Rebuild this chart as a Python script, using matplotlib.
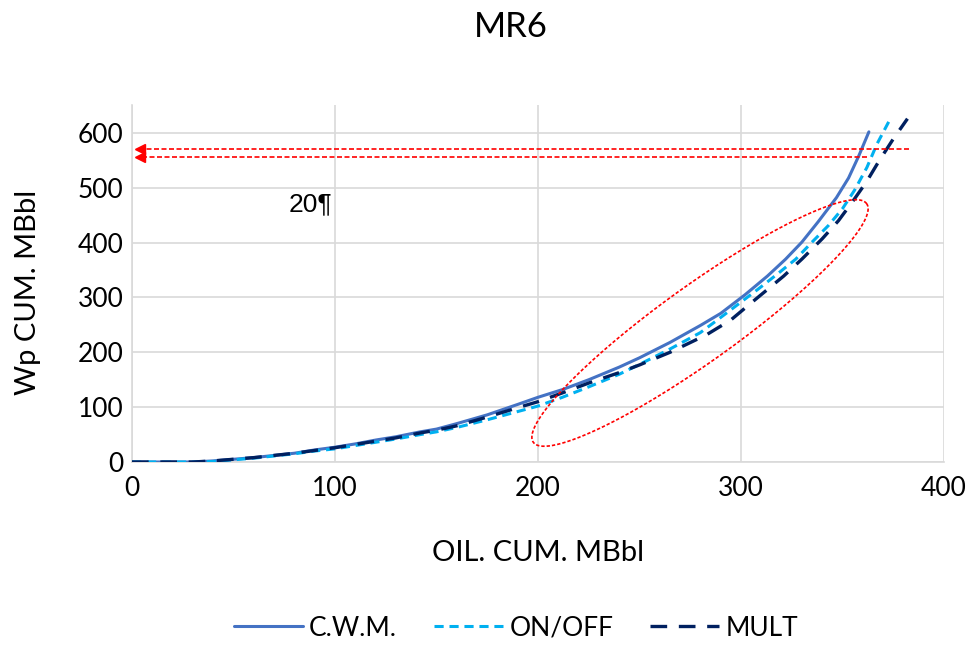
import numpy as np
import matplotlib
matplotlib.use("Agg")
import matplotlib.pyplot as plt

plt.rcParams['font.family'] = ['Lato', 'DejaVu Sans']

# ---- data ----
cwm_x = [0, 30, 40, 50, 60, 70, 80, 90, 100, 110, 120, 130, 142, 150, 160, 175, 190, 200,
         212, 225, 240, 250, 265, 280, 290, 302, 313, 322, 330, 338, 347, 353, 358, 363]
cwm_y = [0, 0, 2, 5, 8, 12, 16, 22, 27, 33, 40, 46, 55, 60, 70, 86, 105, 118,
         132, 150, 173, 190, 218, 249, 271, 305, 339, 370, 401, 438, 482, 518, 558, 602]

onoff_x = [0, 30, 40, 50, 60, 70, 80, 90, 100, 110, 120, 130, 142, 150, 160, 175, 190, 200,
           212, 225, 240, 250, 265, 280, 288, 298, 308, 318, 327, 335, 343, 350, 356, 362, 367, 373]
onoff_y = [0, 0, 1, 4, 7, 11, 15, 20, 24, 30, 36, 42, 50, 55, 63, 77, 92, 102,
           118, 137, 160, 178, 206, 236, 258, 286, 314, 343, 370, 401, 431, 462, 496, 537, 580, 622]

mult_x = [0, 30, 40, 50, 60, 70, 80, 90, 100, 110, 120, 130, 142, 150, 160, 175, 190, 200,
          212, 225, 240, 250, 265, 283, 295, 305, 321, 330, 340, 348, 355, 362, 368, 375, 382]
mult_y = [0, 0, 2, 5, 8, 12, 16, 21, 26, 32, 38, 44, 53, 58, 66, 82, 99, 110,
          126, 144, 163, 177, 200, 232, 259, 290, 339, 370, 407, 440, 475, 512, 549, 589, 626]

series_names = ["C.W.M.", "ON/OFF", "MULT"]
x_ticks = [0, 100, 200, 300, 400]
y_ticks = [0, 100, 200, 300, 400, 500, 600]

arrow_levels = [571, 557]
arrow_starts = [383, 362]
note_text = "20¶"

# ---- figure ----
fig = plt.figure(figsize=(9.79, 6.46), dpi=100)
ax = fig.add_axes([132/979, (646-462)/646, 812/979, 357/646])

ax.plot(cwm_x, cwm_y, color="#4472C4", lw=2.2, solid_capstyle="round", label=series_names[0], zorder=4)
ax.plot(onoff_x, onoff_y, color="#00B0F0", lw=2.2, dashes=(3.0, 1.9), label=series_names[1], zorder=4)
ax.plot(mult_x, mult_y, color="#002060", lw=2.4, dashes=(5.0, 3.5), label=series_names[2], zorder=4)

# red dashed arrows
for yv, xs in zip(arrow_levels, arrow_starts):
    ax.plot([xs, 5], [yv, yv], color="#FF0000", lw=1.2, dashes=(3, 1.5), zorder=5)
    ax.plot([4], [yv], marker="<", color="#FF0000", markersize=7.5, zorder=5)

# red dotted ellipse
t = np.linspace(0, 2*np.pi, 400)
cx, cy = 279.8, 253.5
A = (82.1, 217.6)
B = (-10.9, 56.4)
ex = cx + A[0]*np.cos(t) + B[0]*np.sin(t)
ey = cy + A[1]*np.cos(t) + B[1]*np.sin(t)
ax.plot(ex, ey, color="#FF0000", lw=1.2, dashes=(2, 1.2), zorder=5)

ax.text(98.5, 470, note_text, fontsize=19, family=['Liberation Sans', 'DejaVu Sans'],
        ha="right", va="center", color="#000000")

ax.set_xlim(0, 400)
ax.set_ylim(0, 651)
ax.set_xticks(x_ticks)
ax.set_yticks(y_ticks)
ax.grid(True, color="#D9D9D9", lw=1.2)
ax.set_axisbelow(True)
for s in ["top", "right"]:
    ax.spines[s].set_visible(False)
for s in ["left", "bottom"]:
    ax.spines[s].set_color("#D9D9D9")
    ax.spines[s].set_linewidth(1.2)
ax.tick_params(length=0, labelsize=19, colors="#000000", pad=10)
ax.tick_params(axis="y", pad=6)

ax.set_xlabel("OIL. CUM. MBbl", fontsize=21)
ax.set_ylabel("Wp CUM. MBbl", fontsize=21)
ax.xaxis.set_label_coords((538-132)/812, (462-540)/357)
ax.yaxis.set_label_coords((41-132)/812, (462-292)/357)
fig.text(511/979, 1-27/646, "MR6", fontsize=25, ha="center", va="center")

leg = fig.legend(loc="center", bbox_to_anchor=(516/979, 1-628/646), ncol=3, frameon=False,
                 fontsize=19, handlelength=2.6, handletextpad=0.25, columnspacing=1.4)

fig.savefig("out.png", dpi=100)
